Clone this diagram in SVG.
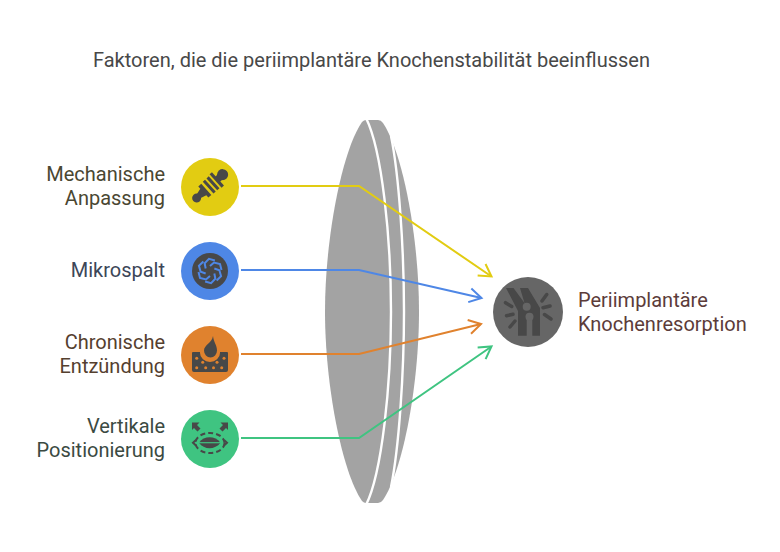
<svg xmlns="http://www.w3.org/2000/svg" width="780" height="552" viewBox="0 0 780 552">
<defs>
<style>
text{font-family:Roboto,"Liberation Sans",sans-serif;font-size:20px}
.r{text-anchor:end}
.c{fill:none;stroke-width:2}
.g{fill:#484848}
.sep{fill:none;stroke:#fff;stroke-width:2.4}
</style>
<marker id="ay" markerUnits="userSpaceOnUse" markerWidth="20" markerHeight="20" refX="13" refY="10" orient="auto"><path d="M1 3L13 10L1 17" fill="none" stroke="#e2cc12" stroke-width="2"/></marker>
<marker id="ab" markerUnits="userSpaceOnUse" markerWidth="20" markerHeight="20" refX="13" refY="10" orient="auto"><path d="M1 3L13 10L1 17" fill="none" stroke="#4e87e6" stroke-width="2"/></marker>
<marker id="ao" markerUnits="userSpaceOnUse" markerWidth="20" markerHeight="20" refX="13" refY="10" orient="auto"><path d="M1 3L13 10L1 17" fill="none" stroke="#e0822e" stroke-width="2"/></marker>
<marker id="ag" markerUnits="userSpaceOnUse" markerWidth="20" markerHeight="20" refX="13" refY="10" orient="auto"><path d="M1 3L13 10L1 17" fill="none" stroke="#3fc481" stroke-width="2"/></marker>
</defs>
<rect width="780" height="552" fill="#fff"/>
<text x="93" y="66.500" fill="#484848">Faktoren, die die periimplantäre Knochenstabilität beeinflussen</text>
<g id="lens">
<path d="M362 122Q364 120 366 120H378Q381 120 383 123C403 153 419 238 419 311.500C419 385 403 470 383 500Q381 503 378 503H366Q364 503 362 501C342 472 325 385 325 311.500C325 238 342 151 362 122Z" fill="#a3a3a3"/>
<path class="sep" d="M366 118C382 150 391 238 391 311.500C391 385 382 473 366 505"/>
<path class="sep" d="M391 136C399 175 404 250 404 311.500C404 373 399 448 391 487"/>
</g>
<g id="connectors">
<path class="c" stroke="#e2cc12" marker-end="url(#ay)" d="M241 186H359L491.500 276.500"/>
<path class="c" stroke="#4e87e6" marker-end="url(#ab)" d="M241 270H359L481.500 298"/>
<path class="c" stroke="#e0822e" marker-end="url(#ao)" d="M241 354H359L481 324"/>
<path class="c" stroke="#3fc481" marker-end="url(#ag)" d="M241 438H359L491.500 346.500"/>
</g>
<g id="node-mechanisch">
<text class="r" fill="#4a4732"><tspan x="165" y="181">Mechanische</tspan><tspan x="165" y="205">Anpassung</tspan></text>
<circle cx="210" cy="187" r="29" fill="#e2cc12"/>
<g class="g" transform="rotate(-42 210 186)">
<circle cx="192" cy="186" r="4.500"/>
<path d="M194 183.500l7-2v-3h4v15h-4v-3l-7-2z"/>
<path d="M207.500 178h3v16h-3zM212.500 178h3v16h-3z"/>
<rect x="217.500" y="177" width="3.200" height="18"/><rect x="220" y="182.500" width="6" height="7"/><circle cx="227" cy="186" r="5.500"/>
</g>
</g>
<g id="node-mikrospalt">
<text class="r" x="165" y="277" fill="#3c4658">Mikrospalt</text>
<circle cx="210" cy="271" r="29" fill="#4e87e6"/>
<circle cx="210" cy="271" r="18" fill="#484848"/>
<g fill="none" stroke="#4e87e6" stroke-width="2">
<path d="M210 266L214 262.500L220 264L221.500 270"/>
<path d="M210 266L214 262.500L220 264L221.500 270" transform="rotate(60 210 271)"/>
<path d="M210 266L214 262.500L220 264L221.500 270" transform="rotate(120 210 271)"/>
<path d="M210 266L214 262.500L220 264L221.500 270" transform="rotate(180 210 271)"/>
<path d="M210 266L214 262.500L220 264L221.500 270" transform="rotate(240 210 271)"/>
<path d="M210 266L214 262.500L220 264L221.500 270" transform="rotate(300 210 271)"/>
</g>
</g>
<g id="node-entzuendung">
<text class="r" fill="#55402f"><tspan x="165" y="349">Chronische</tspan><tspan x="165" y="373">Entzündung</tspan></text>
<circle cx="210" cy="355" r="29" fill="#e0822e"/>
<path class="g" d="M192 353a1 1 0 0 1 1-1h7v1a10 9 0 0 0 20 0v-1h7a1 1 0 0 1 1 1v17a2 2 0 0 1-2 2h-32a2 2 0 0 1-2-2z"/>
<path class="g" d="M213 336C213.500 342 217 345 217 350.500A6.500 7 0 0 1 204 350.500C204 345 212 343 213 336Z"/>
<g fill="#e0822e"><circle cx="196.700" cy="358.300" r="1.500"/><circle cx="202.700" cy="362.300" r="1.500"/><circle cx="217" cy="362.300" r="1.500"/><circle cx="224" cy="358.300" r="1.500"/><circle cx="196.700" cy="367.700" r="1.500"/><circle cx="205.700" cy="367.700" r="1.500"/><circle cx="213.500" cy="367.700" r="1.500"/><circle cx="221.700" cy="367.700" r="1.500"/></g>
</g>
<g id="node-vertikal">
<text class="r" fill="#3b4a42"><tspan x="165" y="433">Vertikale</tspan><tspan x="165" y="457">Positionierung</tspan></text>
<circle cx="210" cy="439" r="29" fill="#3fc481"/>
<path class="g" d="M199 442.700C204 435.500 215 435.500 220.500 442.700C215 450 204 450 199 442.700Z"/>
<path d="M199 442.700H221" stroke="#3fc481" stroke-width="1.200"/>
<ellipse cx="210" cy="443" rx="14.500" ry="10" fill="none" stroke="#484848" stroke-width="2" stroke-dasharray="5 3"/>
<path class="g" d="M192 422.500h7.500l-2.500 2.500 3.500 3.500-3 3-3.500-3.500-2 2zM228 422.500h-7.500l2.500 2.500-3.500 3.500 3 3 3.500-3.500 2 2z"/>
<path d="M196 440l-3 2.700 3 2.700M224 440l3 2.700-3 2.700" fill="none" stroke="#484848" stroke-width="2"/>
</g>
<g id="node-resorption">
<circle cx="528" cy="312" r="35" fill="#666"/>
<path fill="#484848" d="M506 288H513.500L524.500 303L520 288H528L540 308V335.700H532.300V317H526.700V335.700H518V311Z"/>
<path fill="none" stroke="#484848" stroke-width="3.500" stroke-linecap="round" d="M505.500 302.700L511.700 306.500M506.500 315.700L513 314.300M510 327L515 321M546.700 294.500L542 301M543 307.700L550 306M544.500 314.500L551 319"/>
<circle cx="526.700" cy="306.700" r="4" fill="#666"/>
<circle cx="529.500" cy="316.700" r="4" fill="#666"/>
<text fill="#5c3c3a"><tspan x="578" y="307">Periimplantäre</tspan><tspan x="578" y="331">Knochenresorption</tspan></text>
</g>
</svg>
